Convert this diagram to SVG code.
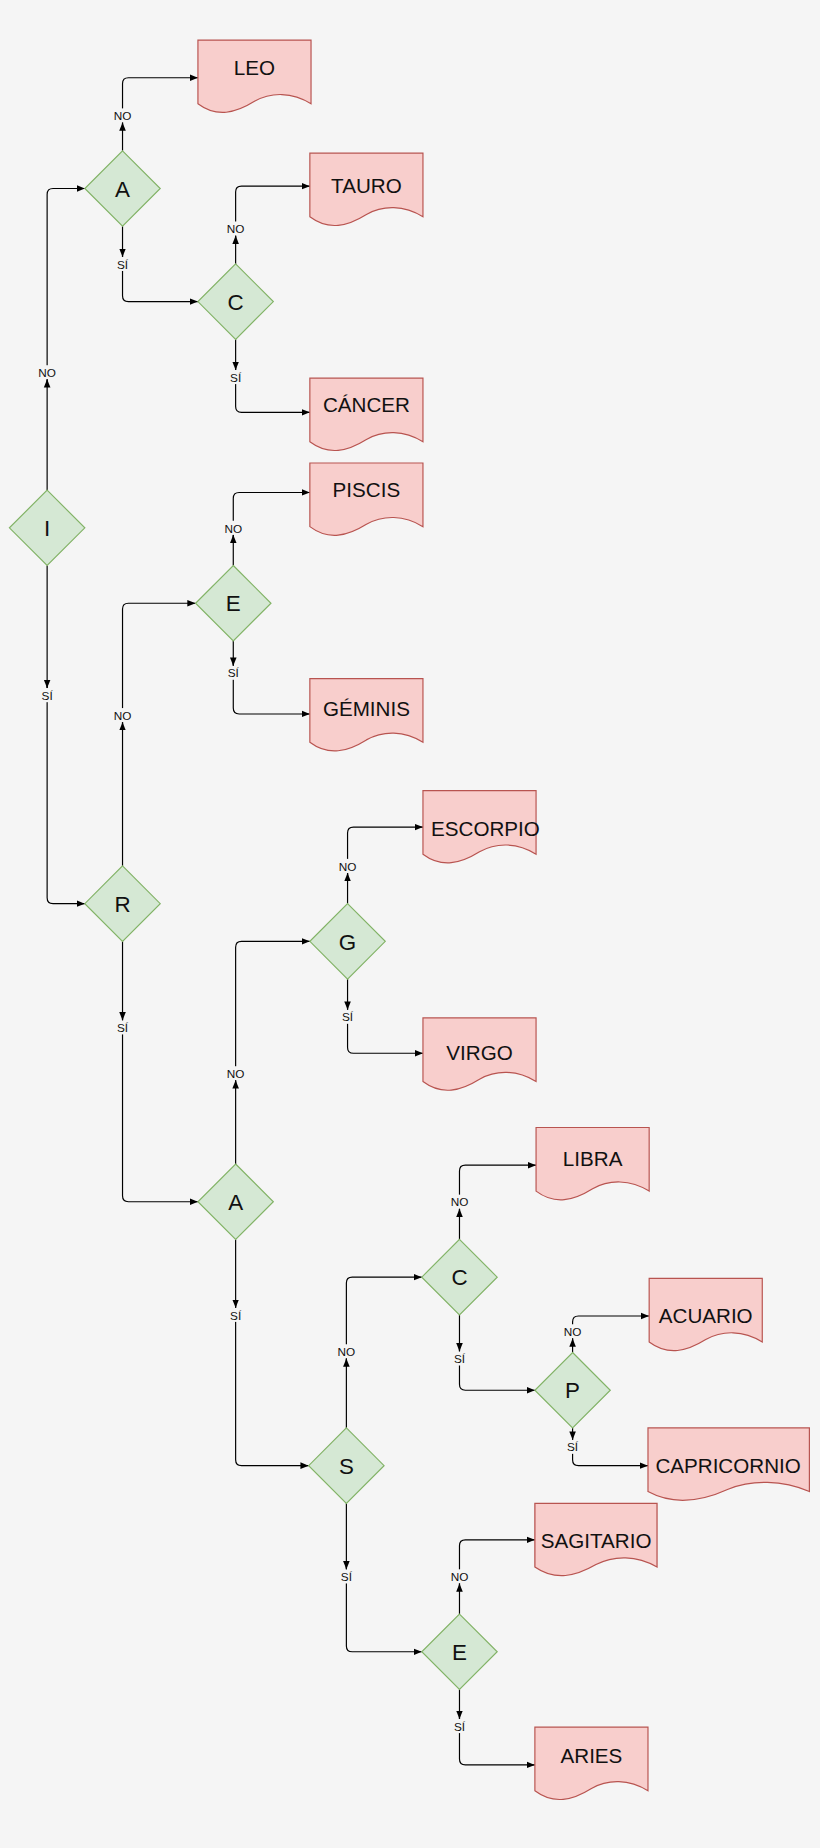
<svg xmlns="http://www.w3.org/2000/svg" width="820" height="1848" viewBox="0 0 820 1848">
<style>
.d{fill:#d5e8d4;stroke:#82b366;stroke-width:1}
.doc{fill:#f8cecc;stroke:#b85450;stroke-width:1}
.c{fill:none;stroke:#000;stroke-width:1}
.t{font-family:"Liberation Sans",Arial,sans-serif;fill:#111;text-anchor:middle}
.dt{font-size:19px}
.nt{font-size:17.5px}
.lb{font-size:10px}
.bg{fill:#f5f5f5}
</style>
<defs>
<marker id="ah" viewBox="0 0 10 10" refX="10" refY="5" markerWidth="7" markerHeight="7" orient="auto" markerUnits="userSpaceOnUse"><path d="M0,1 L10,5 L0,9 Z" fill="#000"/></marker>
<path id="docshape" d="M0,0 H96 V54 C80,44 62,44 48,52 C32,62 16,66 0,54 Z"/>
<path id="docwide" d="M0,0 H137 V54 C114,44 88,44 68,52 C46,62 22,66 0,54 Z"/>
</defs>
<rect width="820" height="1848" fill="#f5f5f5"/>
<g transform="scale(1.17816)">
<g id="connectors" class="c" marker-end="url(#ah)">
<path d="M40,416 V165 Q40,160 45,160 H72"/>
<path d="M40,480 V762 Q40,767 45,767 H72"/>
<path d="M104,128 V71 Q104,66 109,66 H168"/>
<path d="M104,192 V251 Q104,256 109,256 H168"/>
<path d="M200,224 V163 Q200,158 205,158 H263"/>
<path d="M200,288 V345 Q200,350 205,350 H263"/>
<path d="M104,735 V517 Q104,512 109,512 H166"/>
<path d="M104,799 V1015 Q104,1020 109,1020 H168"/>
<path d="M198,480 V423 Q198,418 203,418 H263"/>
<path d="M198,544 V601 Q198,606 203,606 H263"/>
<path d="M200,988 V804 Q200,799 205,799 H263"/>
<path d="M200,1052 V1239 Q200,1244 205,1244 H262"/>
<path d="M295,767 V707 Q295,702 300,702 H359"/>
<path d="M295,831 V889 Q295,894 300,894 H359"/>
<path d="M294,1212 V1089 Q294,1084 299,1084 H358"/>
<path d="M294,1276 V1397 Q294,1402 299,1402 H358"/>
<path d="M390,1052 V994 Q390,989 395,989 H455"/>
<path d="M390,1116 V1175 Q390,1180 395,1180 H454"/>
<path d="M486,1148 V1122 Q486,1117 491,1117 H551"/>
<path d="M486,1212 V1239 Q486,1244 491,1244 H550"/>
<path d="M390,1370 V1312 Q390,1307 395,1307 H454"/>
<path d="M390,1434 V1493 Q390,1498 395,1498 H454"/>
</g>
<g id="labels" class="t lb">
<rect class="bg" x="31" y="310" width="18" height="12"/><text x="40" y="320">NO</text>
<rect class="bg" x="33" y="584" width="14" height="12"/><text x="40" y="594">SÍ</text>
<rect class="bg" x="95" y="92" width="18" height="12"/><text x="104" y="102">NO</text>
<rect class="bg" x="97" y="218" width="14" height="12"/><text x="104" y="228">SÍ</text>
<rect class="bg" x="191" y="188" width="18" height="12"/><text x="200" y="198">NO</text>
<rect class="bg" x="193" y="314" width="14" height="12"/><text x="200" y="324">SÍ</text>
<rect class="bg" x="95" y="601" width="18" height="12"/><text x="104" y="611">NO</text>
<rect class="bg" x="97" y="866" width="14" height="12"/><text x="104" y="876">SÍ</text>
<rect class="bg" x="189" y="442" width="18" height="12"/><text x="198" y="452">NO</text>
<rect class="bg" x="191" y="565" width="14" height="12"/><text x="198" y="575">SÍ</text>
<rect class="bg" x="191" y="905" width="18" height="12"/><text x="200" y="915">NO</text>
<rect class="bg" x="193" y="1110" width="14" height="12"/><text x="200" y="1120">SÍ</text>
<rect class="bg" x="286" y="729" width="18" height="12"/><text x="295" y="739">NO</text>
<rect class="bg" x="288" y="857" width="14" height="12"/><text x="295" y="867">SÍ</text>
<rect class="bg" x="285" y="1141" width="18" height="12"/><text x="294" y="1151">NO</text>
<rect class="bg" x="287" y="1332" width="14" height="12"/><text x="294" y="1342">SÍ</text>
<rect class="bg" x="381" y="1014" width="18" height="12"/><text x="390" y="1024">NO</text>
<rect class="bg" x="383" y="1147" width="14" height="12"/><text x="390" y="1157">SÍ</text>
<rect class="bg" x="477" y="1124" width="18" height="12"/><text x="486" y="1134">NO</text>
<rect class="bg" x="479" y="1222" width="14" height="12"/><text x="486" y="1232">SÍ</text>
<rect class="bg" x="381" y="1332" width="18" height="12"/><text x="390" y="1342">NO</text>
<rect class="bg" x="383" y="1459" width="14" height="12"/><text x="390" y="1469">SÍ</text>
</g>
<g id="mid-arrows" class="c" marker-end="url(#ah)">
<path d="M40,326 V322"/><path d="M40,580 V584"/>
<path d="M104,108 V104"/><path d="M104,214 V218"/>
<path d="M200,204 V200"/><path d="M200,310 V314"/>
<path d="M104,617 V613"/><path d="M104,862 V866"/>
<path d="M198,458 V454"/><path d="M198,561 V565"/>
<path d="M200,921 V917"/><path d="M200,1106 V1110"/>
<path d="M295,745 V741"/><path d="M295,853 V857"/>
<path d="M294,1157 V1153"/><path d="M294,1328 V1332"/>
<path d="M390,1030 V1026"/><path d="M390,1143 V1147"/>
<path d="M486,1140 V1136"/><path d="M486,1218 V1222"/>
<path d="M390,1348 V1344"/><path d="M390,1455 V1459"/>
</g>
<g id="n-I"><path class="d" d="M40,416 L72,448 L40,480 L8,448 Z"/><text class="t dt" x="40" y="455">I</text></g>
<g id="n-A1"><path class="d" d="M104,128 L136,160 L104,192 L72,160 Z"/><text class="t dt" x="104" y="167">A</text></g>
<g id="n-C1"><path class="d" d="M200,224 L232,256 L200,288 L168,256 Z"/><text class="t dt" x="200" y="263">C</text></g>
<g id="n-R"><path class="d" d="M104,735 L136,767 L104,799 L72,767 Z"/><text class="t dt" x="104" y="774">R</text></g>
<g id="n-E1"><path class="d" d="M198,480 L230,512 L198,544 L166,512 Z"/><text class="t dt" x="198" y="519">E</text></g>
<g id="n-A2"><path class="d" d="M200,988 L232,1020 L200,1052 L168,1020 Z"/><text class="t dt" x="200" y="1027">A</text></g>
<g id="n-G"><path class="d" d="M295,767 L327,799 L295,831 L263,799 Z"/><text class="t dt" x="295" y="806">G</text></g>
<g id="n-S"><path class="d" d="M294,1212 L326,1244 L294,1276 L262,1244 Z"/><text class="t dt" x="294" y="1251">S</text></g>
<g id="n-C2"><path class="d" d="M390,1052 L422,1084 L390,1116 L358,1084 Z"/><text class="t dt" x="390" y="1091">C</text></g>
<g id="n-P"><path class="d" d="M486,1148 L518,1180 L486,1212 L454,1180 Z"/><text class="t dt" x="486" y="1187">P</text></g>
<g id="n-E2"><path class="d" d="M390,1370 L422,1402 L390,1434 L358,1402 Z"/><text class="t dt" x="390" y="1409">E</text></g>
<g id="d-LEO"><use href="#docshape" class="doc" x="168" y="34"/><text class="t nt" x="216" y="64">LEO</text></g>
<g id="d-TAURO"><use href="#docshape" class="doc" x="263" y="130"/><text class="t nt" x="311" y="164">TAURO</text></g>
<g id="d-CANCER"><use href="#docshape" class="doc" x="263" y="321"/><text class="t nt" x="311" y="350">CÁNCER</text></g>
<g id="d-PISCIS"><use href="#docshape" class="doc" x="263" y="393"/><text class="t nt" x="311" y="422">PISCIS</text></g>
<g id="d-GEMINIS"><use href="#docshape" class="doc" x="263" y="576"/><text class="t nt" x="311" y="608">GÉMINIS</text></g>
<g id="d-ESCORPIO"><use href="#docshape" class="doc" x="359" y="671"/><text class="t nt" x="412" y="710">ESCORPIO</text></g>
<g id="d-VIRGO"><use href="#docshape" class="doc" x="359" y="864"/><text class="t nt" x="407" y="900">VIRGO</text></g>
<g id="d-LIBRA"><use href="#docshape" class="doc" x="455" y="957"/><text class="t nt" x="503" y="990">LIBRA</text></g>
<g id="d-ACUARIO"><use href="#docshape" class="doc" x="551" y="1085"/><text class="t nt" x="599" y="1123">ACUARIO</text></g>
<g id="d-CAPRICORNIO"><use href="#docwide" class="doc" x="550" y="1212"/><text class="t nt" x="618" y="1250">CAPRICORNIO</text></g>
<g id="d-SAGITARIO"><use href="#docshape" class="doc" x="454" y="1276" transform="translate(454,1276) scale(1.08,1) translate(-454,-1276)"/><text class="t nt" x="506" y="1314">SAGITARIO</text></g>
<g id="d-ARIES"><use href="#docshape" class="doc" x="454" y="1466"/><text class="t nt" x="502" y="1496">ARIES</text></g>
</g>
</svg>
